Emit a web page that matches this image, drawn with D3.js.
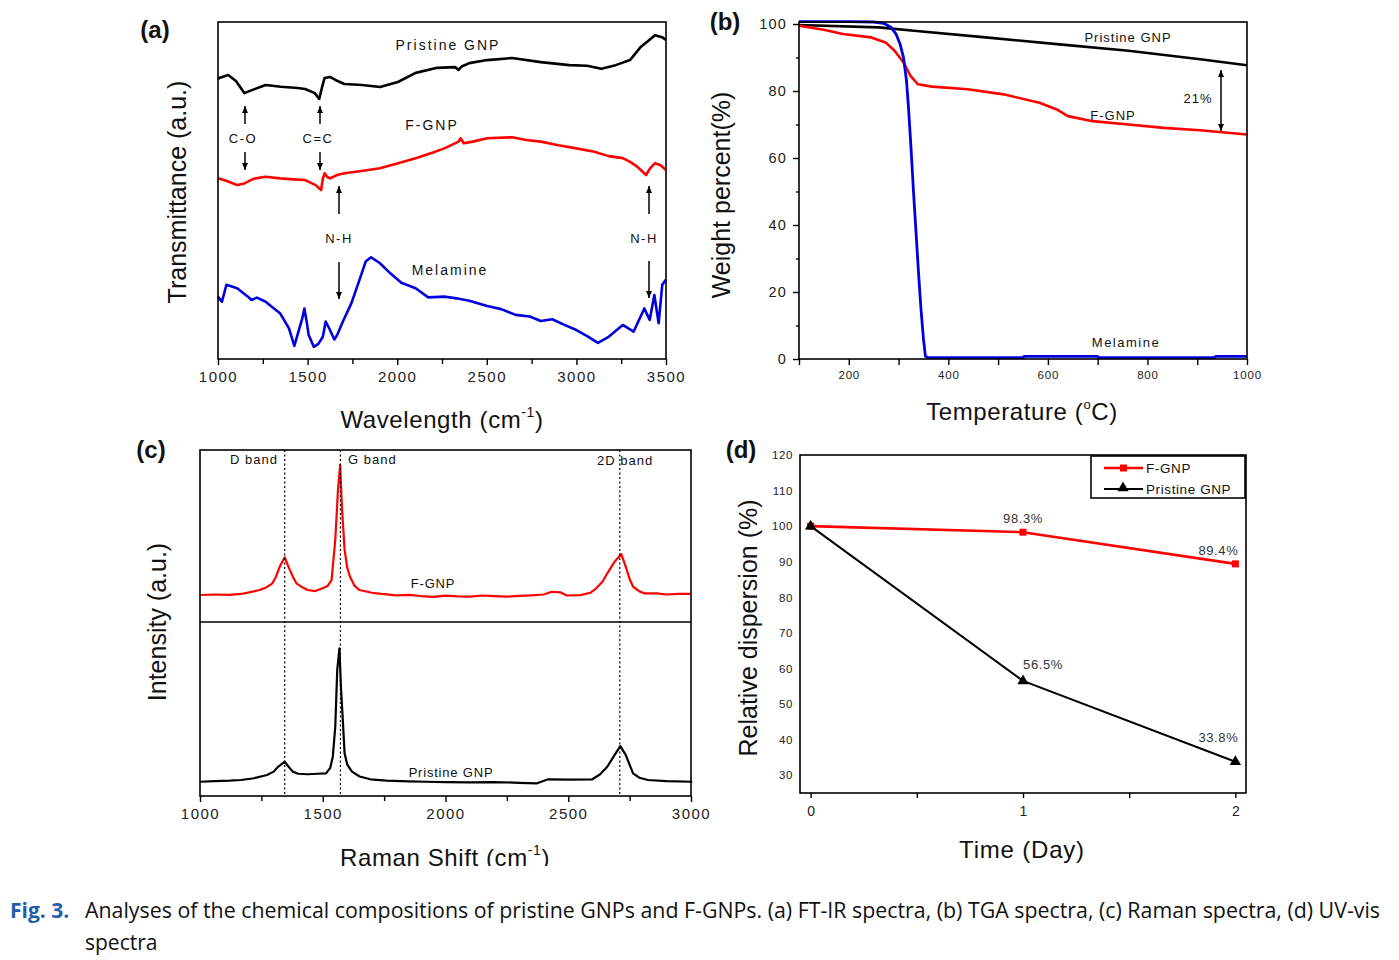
<!DOCTYPE html>
<html><head><meta charset="utf-8">
<script src="https://cdn.jsdelivr.net/npm/d3@7"></script>
<style>
body{margin:0;background:#fff}
svg{display:block}
text{font-family:"Liberation Sans",Arial,sans-serif;fill:#111}
text.cap{font-family:"Open Sans","Noto Sans",sans-serif}
</style>
</head><body>
<svg id="fig" width="1399" height="960"></svg>
<script>
// ---------------- DATA ----------------
// (a) FT-IR (wavenumber cm-1, transmittance a.u.)
const irPristineX = [1000,1007,1057,1100,1147,1200,1266,1350,1446,1486,1540,1565,1580,1595,1625,1655,1705,1804,1904,2004,2103,2223,2323,2343,2360,2402,2502,2641,2801,2960,3060,3140,3219,3299,3359,3439,3478,3500];
const irPristineY = [83.0,83.4,84.3,82.5,78.9,80.0,81.3,80.8,80.4,80.1,78.9,77.2,80.5,83.4,83.7,82.8,81.6,81.3,80.7,82.2,84.9,86.4,86.6,85.8,86.8,87.8,88.7,89.3,88.1,87.2,87.0,86.1,87.2,88.7,92.6,96.1,95.5,94.7];
const irFgnpX = [1000,1050,1107,1147,1200,1266,1346,1420,1486,1545,1575,1585,1595,1610,1625,1665,1705,1800,1904,2000,2103,2200,2263,2343,2353,2372,2422,2502,2641,2720,2801,2900,3000,3100,3180,3259,3300,3339,3389,3410,3439,3470,3500];
const irFgnpY = [53.6,52.8,51.6,52.1,53.5,54.1,53.6,53.3,53.1,51.6,50.1,53.5,55.1,54.0,53.6,54.6,55.1,55.8,56.6,58.0,59.6,61.3,62.5,64.5,65.5,64.0,64.5,65.5,65.8,65.0,64.5,63.4,62.5,61.5,60.2,59.6,58.5,57.1,54.6,56.5,58.1,57.5,56.1];
const irMelX = [1000,1022,1047,1107,1167,1187,1217,1266,1300,1346,1396,1426,1446,1470,1482,1495,1506,1535,1560,1585,1601,1625,1649,1665,1700,1744,1780,1824,1854,1904,1960,2023,2103,2173,2263,2330,2402,2502,2580,2661,2740,2801,2865,2930,3000,3060,3120,3180,3259,3319,3379,3409,3435,3459,3479,3500];
const irMelY = [18.5,17.0,22.0,21.0,18.5,17.5,18.2,17.0,15.5,13.6,9.1,3.9,7.6,12.0,15.0,11.0,7.1,3.6,4.5,6.6,11.1,8.6,5.8,7.1,11.5,16.5,22.0,28.9,30.2,28.4,25.5,22.6,21.0,18.3,18.5,18.0,17.3,15.7,14.8,13.1,12.6,11.3,11.8,10.2,8.6,6.8,4.8,6.6,10.1,8.1,15.0,11.6,19.0,10.6,22.0,23.6];
const irTicks = [1000,1500,2000,2500,3000,3500];
const irMinorTicks = [1250,1750,2250,2750,3250];

// (b) TGA (temperature C, weight %)
const tgaPristineX = [100,260,331,475,618,762,906,1000];
const tgaPristineY = [99.7,99.0,98.0,96.0,94.0,92.0,89.5,87.7];
const tgaFgnpX = [100,150,188,245,274,292,310,324,339,367,439,511,583,618,640,690,762,833,906,1000];
const tgaFgnpY = [99.5,98.3,97.0,96.0,94.5,92.0,88.5,84.5,82.0,81.3,80.5,79.0,76.5,74.5,72.5,71.0,70.0,69.0,68.3,67.0];
const tgaMelX = [100,200,250,270,285,295,303,310,316,320,325,330,335,340,345,350,354,360,550,552,700,702,935,937,1000];
const tgaMelY = [100.7,100.7,100.6,100.2,99.0,97.0,94.0,90.0,83.0,75.0,63.0,50.0,38.0,26.0,15.0,6.0,0.8,0.4,0.4,0.8,0.8,0.4,0.4,0.8,0.8];
const tgaXTicks = [200,400,600,800,1000];
const tgaXMinor = [100,300,500,700,900];
const tgaYTicks = [0,20,40,60,80,100];
const tgaYMinor = [10,30,50,70,90];

// (c) Raman (Raman shift cm-1, intensity a.u.)
const ramanFgnpX = [1000,1060,1120,1167,1200,1242,1270,1295,1310,1325,1345,1363,1380,1393,1415,1438,1470,1499,1520,1536,1551,1562,1571,1578,1589,1600,1611,1630,1649,1700,1740,1800,1850,1900,1950,2000,2050,2100,2150,2200,2250,2300,2350,2400,2433,2470,2493,2550,2590,2614,2640,2659,2689,2716,2734,2750,2764,2790,2809,2860,2900,2950,3000];
const ramanFgnpY = [15.7,16.0,15.8,16.3,17.2,18.6,20.1,22.5,26.5,32.2,37.6,31.2,25.8,22.5,20.3,18.6,18.0,19.6,21.0,24.4,47.7,76.7,91.3,67.0,41.9,31.5,26.3,21.0,18.6,17.0,16.3,15.5,15.8,15.1,14.6,15.3,14.9,14.8,15.4,15.0,14.7,15.2,15.5,16.0,17.6,17.2,15.4,15.6,17.0,19.6,23.5,28.3,35.1,39.5,32.2,25.0,20.5,17.8,16.7,16.6,16.0,16.4,16.3];
const ramanPristineX = [1000,1060,1120,1167,1220,1273,1300,1318,1345,1360,1378,1400,1438,1480,1513,1530,1541,1551,1559,1568,1574,1581,1589,1600,1619,1650,1694,1760,1850,1921,2000,2100,2200,2300,2373,2418,2500,2598,2630,2659,2689,2712,2734,2764,2790,2824,2900,3005];
const ramanPristineY = [8.2,8.5,8.8,9.2,10.2,12.1,14.0,16.8,19.7,17.0,14.0,12.8,12.5,12.8,13.0,16.0,22.6,39.8,72.4,84.9,62.8,45.6,24.5,18.0,14.0,11.2,9.6,8.8,8.4,8.2,8.0,7.8,8.0,7.6,7.3,9.6,9.4,9.6,12.5,16.8,23.6,28.7,23.6,13.0,10.5,9.2,8.6,8.2];
const ramanBands = [1345,1572,2710];
const ramanTicks = [1000,1500,2000,2500,3000];
const ramanMinor = [1250,1750,2250,2750];

// (d) Relative dispersion (day, %)
const days = [0,1,2];
const dispFgnp = [100,98.3,89.4];
const dispPristine = [100,56.5,33.8];
const dispFgnpLabels = ["","98.3%","89.4%"];
const dispPristineLabels = ["","56.5%","33.8%"];
const dispYTicks = [30,40,50,60,70,80,90,100,110,120];

// ---------------- DRAW ----------------
const svg = d3.select("#fig");
svg.append("rect").attr("width",1399).attr("height",960).attr("fill","#fff");
const defs = svg.append("defs");
defs.append("marker").attr("id","ah").attr("markerUnits","userSpaceOnUse")
  .attr("markerWidth",7).attr("markerHeight",8).attr("refX",7).attr("refY",3.5)
  .attr("viewBox","0 0 7 7").attr("orient","auto-start-reverse")
  .append("path").attr("d","M0,0.5 L7,3.5 L0,6.5 Z").attr("fill","#000");

function frame(x0,y0,x1,y1){
  svg.append("rect").attr("x",x0).attr("y",y0).attr("width",x1-x0).attr("height",y1-y0)
    .attr("fill","none").attr("stroke","#000").attr("stroke-width",1.6);
}
function xAxis(scale, y, ticks, minor, size, fs, ls, dy){
  const g = svg.append("g").attr("transform",`translate(0,${y})`)
    .call(d3.axisBottom(scale).tickValues(ticks).tickSize(size.maj).tickPadding(dy).tickFormat(d3.format("d")));
  g.select(".domain").remove();
  g.selectAll("line").attr("stroke","#000").attr("stroke-width",1.4);
  g.selectAll("text").attr("font-size",fs).attr("letter-spacing",ls).style("fill","#222");
  if(minor){
    const m = svg.append("g").attr("transform",`translate(0,${y})`)
      .call(d3.axisBottom(scale).tickValues(minor).tickSize(size.min).tickFormat(""));
    m.select(".domain").remove();
    m.selectAll("line").attr("stroke","#000").attr("stroke-width",1.4);
  }
  return g;
}
function label(x,y,str,opt){
  opt = opt||{};
  const t = svg.append("text").attr("x",x).attr("y",y).text(str)
    .attr("font-size",opt.fs||14).attr("text-anchor",opt.anchor||"middle");
  if(opt.ls!==undefined) t.attr("letter-spacing",opt.ls);
  if(opt.bold) t.attr("font-weight","bold");
  if(opt.fill) t.style("fill",opt.fill);
  if(opt.rot) t.attr("transform",`rotate(-90,${x},${y})`);
  return t;
}
function seriesLine(xs, ys, sx, sy, color, w){
  const pts = xs.map((d,i)=>[d, ys[i]]);
  svg.append("path").datum(pts)
    .attr("d", d3.line().x(d=>sx(d[0])).y(d=>sy(d[1])))
    .attr("fill","none").attr("stroke",color).attr("stroke-width",w)
    .attr("stroke-linejoin","round");
}
function arrow(x,y1,y2,start){
  const l = svg.append("line").attr("x1",x).attr("x2",x).attr("y1",y1).attr("y2",y2)
    .attr("stroke","#000").attr("stroke-width",1.5).attr("marker-end","url(#ah)");
  if(start) l.attr("marker-start","url(#ah)");
}

// ===== Panel (a) =====
const xA = d3.scaleLinear().domain([1000,3500]).range([218,666]);
const yA = d3.scaleLinear().domain([0,100]).range([359,22]);
seriesLine(irPristineX, irPristineY, xA, yA, "#000", 2.6);
seriesLine(irFgnpX, irFgnpY, xA, yA, "#ff0000", 2.6);
seriesLine(irMelX, irMelY, xA, yA, "#0000dd", 2.6);
frame(218,22,666,359);
xAxis(xA, 359, irTicks, irMinorTicks, {maj:6,min:5}, 15, 1.5, 6);
label(155,38,"(a)",{fs:24,bold:true});
label(186,192,"Transmittance (a.u.)",{fs:25,rot:true});
{
  const t = svg.append("text").attr("x",442).attr("y",428).attr("text-anchor","middle").attr("font-size",24).attr("letter-spacing",0.6);
  t.append("tspan").text("Wavelength (cm");
  t.append("tspan").text("-1").attr("font-size",14).attr("dy",-11);
  t.append("tspan").text(")").attr("dy",11);
}
label(448,50,"Pristine GNP",{fs:14,ls:2});
label(432,130,"F-GNP",{fs:14,ls:2});
label(450,275,"Melamine",{fs:14,ls:2});
label(243,143,"C-O",{fs:13,ls:1.5});
label(318,143,"C=C",{fs:13,ls:1.5});
label(339,243,"N-H",{fs:13,ls:1.5});
label(644,243,"N-H",{fs:13,ls:1.5});
arrow(245,124,106); arrow(245,152,170);
arrow(320,124,106); arrow(320,152,170);
arrow(339,214,186); arrow(339,262,299);
arrow(649,214,186); arrow(649,261,298);

// ===== Panel (b) =====
const xB = d3.scaleLinear().domain([100,1000]).range([799,1247]);
const yB = d3.scaleLinear().domain([0,100]).range([359,24]);
seriesLine(tgaPristineX, tgaPristineY, xB, yB, "#000", 2.6);
seriesLine(tgaFgnpX, tgaFgnpY, xB, yB, "#ff0000", 2.6);
seriesLine(tgaMelX, tgaMelY, xB, yB, "#0000dd", 2.8);
frame(799,22,1247,359);
xAxis(xB, 359, tgaXTicks, tgaXMinor, {maj:6,min:6}, 11.5, 0.8, 6);
{
  const g = svg.append("g").attr("transform","translate(799,0)")
    .call(d3.axisLeft(yB).tickValues(tgaYTicks).tickSize(6).tickPadding(6));
  g.select(".domain").remove();
  g.selectAll("line").attr("stroke","#000").attr("stroke-width",1.4);
  g.selectAll("text").attr("font-size",14.5).attr("letter-spacing",1.2).style("fill","#222");
  const m = svg.append("g").attr("transform","translate(799,0)")
    .call(d3.axisLeft(yB).tickValues(tgaYMinor).tickSize(3).tickFormat(""));
  m.select(".domain").remove();
  m.selectAll("line").attr("stroke","#000").attr("stroke-width",1.4);
}
label(725,30,"(b)",{fs:24,bold:true});
label(730,195,"Weight percent(%)",{fs:25,rot:true});
{
  const t = svg.append("text").attr("x",1022).attr("y",420).attr("text-anchor","middle").attr("font-size",24).attr("letter-spacing",0.6);
  t.append("tspan").text("Temperature (");
  t.append("tspan").text("o").attr("font-size",13).attr("dy",-11);
  t.append("tspan").text("C)").attr("dy",11);
}
label(1128,42,"Pristine GNP",{fs:13,ls:1});
label(1113,120,"F-GNP",{fs:13,ls:1});
label(1198,103,"21%",{fs:13,ls:1});
label(1126,347,"Melamine",{fs:13,ls:1.5});
arrow(1221,70,131,true);

// ===== Panel (c) =====
const xC = d3.scaleLinear().domain([1000,3000]).range([200,691]);
const yCt = d3.scaleLinear().domain([0,100]).range([622,450]);
const yCb = d3.scaleLinear().domain([0,100]).range([796,622]);
seriesLine(ramanFgnpX, ramanFgnpY, xC, yCt, "#ff0000", 2.2);
seriesLine(ramanPristineX, ramanPristineY, xC, yCb, "#000", 2.2);
ramanBands.forEach(b=>{
  svg.append("line").attr("x1",xC(b)).attr("x2",xC(b)).attr("y1",450).attr("y2",796)
    .attr("stroke","#000").attr("stroke-width",1.2).attr("stroke-dasharray","2,2.5");
});
frame(200,450,691,796);
svg.append("line").attr("x1",200).attr("x2",691).attr("y1",622).attr("y2",622).attr("stroke","#000").attr("stroke-width",1.6);
xAxis(xC, 796, ramanTicks, ramanMinor, {maj:6,min:5}, 15, 1.5, 6);
label(151,458,"(c)",{fs:24,bold:true});
label(166,622,"Intensity (a.u.)",{fs:25,rot:true});
label(278,464,"D band",{fs:13,ls:1,anchor:"end"});
label(348,464,"G band",{fs:13,ls:1,anchor:"start"});
label(597,465,"2D band",{fs:13,ls:1,anchor:"start"});
label(433,588,"F-GNP",{fs:13,ls:0.8});
label(451,777,"Pristine GNP",{fs:13,ls:0.8});
{
  const t = svg.append("text").attr("x",445).attr("y",866).attr("text-anchor","middle").attr("font-size",24).attr("letter-spacing",0.6);
  t.append("tspan").text("Raman Shift (cm");
  t.append("tspan").text("-1").attr("font-size",14).attr("dy",-11);
  t.append("tspan").text(")").attr("dy",11);
  svg.append("rect").attr("x",300).attr("y",866).attr("width",300).attr("height",20).attr("fill","#fff");
}

// ===== Panel (d) =====
const xD = d3.scaleLinear().domain([-0.05,2.05]).range([800,1246]);
const yD = d3.scaleLinear().domain([25,120]).range([793,455]);
frame(800,455,1246,793);
{
  const line = d3.line().x((d,i)=>xD(days[i])).y(d=>yD(d));
  svg.append("path").attr("d",line(dispFgnp)).attr("fill","none").attr("stroke","#ff0000").attr("stroke-width",2.6);
  svg.append("path").attr("d",line(dispPristine)).attr("fill","none").attr("stroke","#000").attr("stroke-width",2);
  svg.selectAll(".sq").data(dispFgnp).enter().append("rect")
    .attr("x",(d,i)=>xD(days[i])-3.5).attr("y",d=>yD(d)-3.5).attr("width",7).attr("height",7).attr("fill","#ff0000");
  const tri = d3.symbol().type(d3.symbolTriangle).size(55);
  svg.selectAll(".tr").data(dispPristine).enter().append("path")
    .attr("d",tri).attr("transform",(d,i)=>`translate(${xD(days[i])},${yD(d)})`).attr("fill","#000");
  dispFgnp.forEach((d,i)=>{ if(dispFgnpLabels[i]) label(xD(days[i])-(i==2?17:0), yD(d)-9, dispFgnpLabels[i],{fs:13,ls:0.6,fill:"#333"}); });
  dispPristine.forEach((d,i)=>{ if(dispPristineLabels[i]) label(xD(days[i])+(i==2?-17:20), yD(d)-(i==2?20:12), dispPristineLabels[i],{fs:13,ls:0.6,fill:"#333"}); });
}
{
  const g = svg.append("g").attr("transform","translate(800,0)")
    .call(d3.axisLeft(yD).tickValues(dispYTicks).tickSize(0).tickPadding(7));
  g.select(".domain").remove();
  g.selectAll("text").attr("font-size",11.5).attr("letter-spacing",0.6).style("fill","#222");
}
xAxis(xD, 793, days, [0.5,1.5], {maj:5,min:5}, 14, 0, 8);
label(741,458,"(d)",{fs:24,bold:true});
label(757,628,"Relative dispersion (%)",{fs:25,rot:true});
label(1022,858,"Time (Day)",{fs:24,ls:0.8});
// legend
svg.append("rect").attr("x",1091).attr("y",456).attr("width",154).attr("height",42).attr("fill","#fff").attr("stroke","#000").attr("stroke-width",1.6);
svg.append("line").attr("x1",1104).attr("x2",1143).attr("y1",468).attr("y2",468).attr("stroke","#ff0000").attr("stroke-width",2.6);
svg.append("rect").attr("x",1120).attr("y",464.5).attr("width",7).attr("height",7).attr("fill","#ff0000");
svg.append("line").attr("x1",1104).attr("x2",1143).attr("y1",489).attr("y2",489).attr("stroke","#000").attr("stroke-width",2);
svg.append("path").attr("d",d3.symbol().type(d3.symbolTriangle).size(55)).attr("transform","translate(1123,488)").attr("fill","#000");
label(1146,473,"F-GNP",{fs:13.5,ls:0.6,anchor:"start"});
label(1146,494,"Pristine GNP",{fs:13.5,ls:0.6,anchor:"start"});

// ===== Caption =====
label(10,918,"Fig. 3.",{fs:21,bold:true,anchor:"start",fill:"#1f5ea8"}).attr("class","cap");
svg.append("text").attr("class","cap").attr("x",85).attr("y",918).attr("font-size",21)
  .attr("textLength",1295).attr("lengthAdjust","spacingAndGlyphs")
  .text("Analyses of the chemical compositions of pristine GNPs and F-GNPs. (a) FT-IR spectra, (b) TGA spectra, (c) Raman spectra, (d) UV-vis");
svg.append("text").attr("class","cap").attr("x",85).attr("y",950).attr("font-size",21).text("spectra");
</script>
</body></html>
